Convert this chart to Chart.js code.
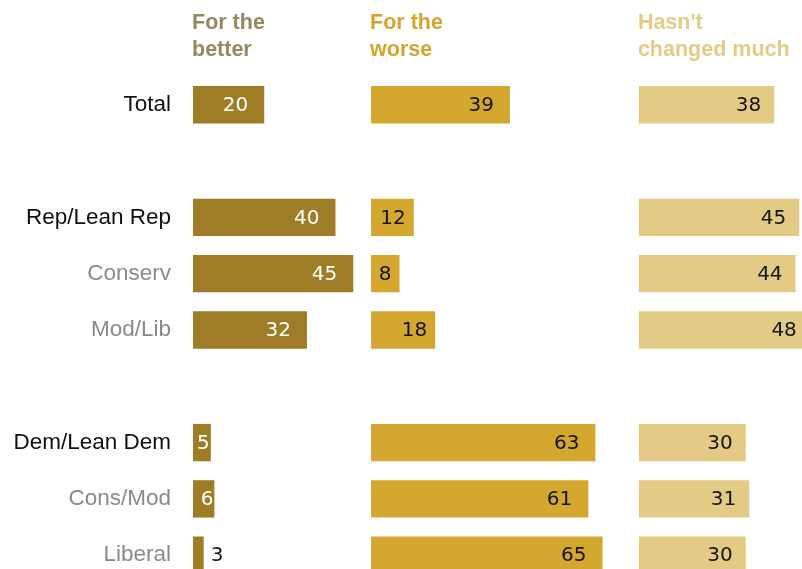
<!DOCTYPE html>
<html><head><meta charset="utf-8">
<script src="https://cdn.jsdelivr.net/npm/chart.js@4/dist/chart.umd.min.js"></script>
<style>html,body{margin:0;padding:0;background:#fff;overflow:hidden}#wrap{width:802px;height:569px;overflow:hidden}</style>
</head><body>
<div id="wrap"><canvas id="c" width="802" height="592"></canvas></div>
<script>
// ---- data ----
const categories = ['Total', '', 'Rep/Lean Rep', 'Conserv', 'Mod/Lib', '', 'Dem/Lean Dem', 'Cons/Mod', 'Liberal'];
const isSubgroup = [false, false, false, true, true, false, false, true, true];
const better = [20, null, 40, 45, 32, null, 5, 6, 3];
const worse = [39, null, 12, 8, 18, null, 63, 61, 65];
const unchanged = [38, null, 45, 44, 48, null, 30, 31, 30];
const headerLines = [['For the', 'better'], ['For the', 'worse'], ["Hasn't", 'changed much']];

// ---- layout / style ----
const panelStart = [0, 50, 125.2];
const barColors = ['#9e7d26', '#d4a72f', '#e3cb85'];
const headColors = ['#958960', '#d4a62e', '#e4cc87'];
const series = [better, worse, unchanged];

function floating(values, start) {
  return values.map(v => v == null ? null : [start, start + v]);
}

const headerPlugin = {
  id: 'headers',
  afterDraw(chart) {
    const ctx = chart.ctx, xs = chart.scales.x;
    ctx.save();
    ctx.font = 'bold 21.5px "Liberation Sans", Arial, sans-serif';
    ctx.textAlign = 'left';
    ctx.textBaseline = 'alphabetic';
    headerLines.forEach((lines, i) => {
      const x = xs.getPixelForValue(panelStart[i]);
      ctx.fillStyle = headColors[i];
      lines.forEach((t, j) => ctx.fillText(t, x - 1, 29 + j * 26.5));
    });
    ctx.restore();
  }
};

const valuePlugin = {
  id: 'values',
  afterDatasetsDraw(chart) {
    const ctx = chart.ctx;
    ctx.save();
    ctx.font = '20px "DejaVu Sans", sans-serif';
    ctx.textBaseline = 'middle';
    chart.data.datasets.forEach((ds, di) => {
      const meta = chart.getDatasetMeta(di);
      meta.data.forEach((el, i) => {
        const v = series[di][i];
        if (v == null) return;
        const end = el.x, y = el.y + 1;
        let x, align = 'right', color = di === 0 ? '#ffffff' : '#141414';
        if (di === 0) {
          if (v < 4) { x = end + 7; align = 'left'; color = '#141414'; }
          else if (v < 10) { x = end - 1; }
          else { x = end - 16; }
        } else if (di === 1) {
          x = v < 20 ? end - 8 : end - 16;
        } else {
          x = end - 13;
        }
        ctx.textAlign = align;
        ctx.fillStyle = color;
        ctx.fillText(String(v), x, y);
      });
    });
    ctx.restore();
  }
};

new Chart(document.getElementById('c'), {
  type: 'bar',
  data: {
    labels: categories,
    datasets: series.map((vals, i) => ({
      data: floating(vals, panelStart[i]),
      backgroundColor: barColors[i],
      borderWidth: 0,
      grouped: false,
      categoryPercentage: 1,
      barPercentage: 0.664,
      clip: false
    }))
  },
  options: {
    indexAxis: 'y',
    responsive: false,
    devicePixelRatio: 1,
    animation: false,
    layout: { padding: { top: 104.7, bottom: 36.8, left: 0, right: 0 } },
    plugins: { legend: { display: false }, tooltip: { enabled: false } },
    scales: {
      x: { type: 'linear', min: 0, max: 171, display: false },
      y: {
        type: 'category',
        offset: false,
        grid: { display: false, drawTicks: false },
        border: { display: false },
        ticks: {
          autoSkip: false,
          padding: 22,
          font: { family: '"Liberation Sans", Arial, sans-serif', size: 22.5 },
          color: c => isSubgroup[c.index] ? '#8a8a8a' : '#111111'
        },
        afterFit: s => { s.width = 193; }
      }
    }
  },
  plugins: [headerPlugin, valuePlugin]
});
</script>
</body></html>
